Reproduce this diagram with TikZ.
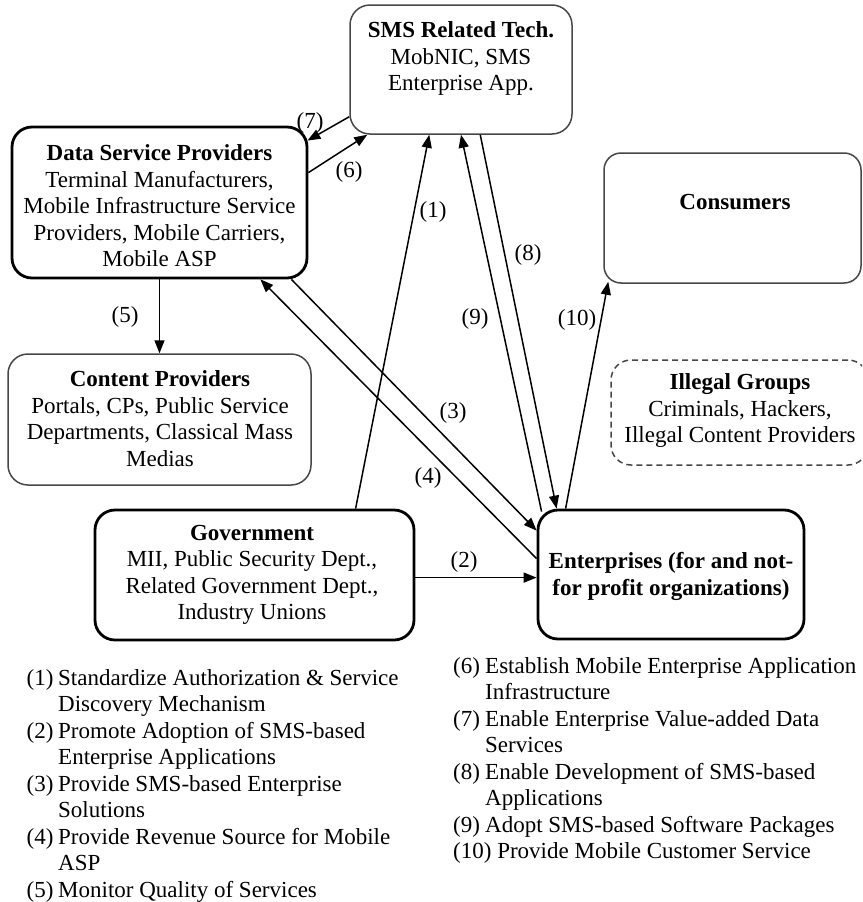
\documentclass[tikz,border=0pt]{standalone}
\usepackage{fontspec}
\setmainfont{Liberation Serif}
\usetikzlibrary{arrows.meta,calc}

\begin{document}
\begin{tikzpicture}[x=1pt,y=-1pt,
  every node/.style={font=\fontsize{23}{26.5}\selectfont, inner sep=0pt},
  boxthick/.style={draw=black, line width=2.8pt, rounded corners=20pt},
  boxthin/.style={draw=black!72, line width=1.5pt, rounded corners=20pt},
  boxdash/.style={draw=black!72, line width=1.5pt, rounded corners=20pt,
                  dash pattern=on 6pt off 4pt},
  txt/.style={align=center},
  flow/.style={line width=1.5pt, -{Triangle[length=13pt,width=10pt]}},
  legend/.style={align=left, anchor=north west}]

\useasboundingbox (0,0) rectangle (862,902);
\clip (0,0) rectangle (862,902);

% ---------- actor boxes ----------
\node[boxthin,  minimum width=222pt, minimum height=129pt] (sms)  at (461,69.5)   {};
\node[boxthick, minimum width=295pt, minimum height=151pt] (dsp)  at (159.5,202.5) {};
\node[boxthin,  minimum width=257pt, minimum height=130pt, rounded corners=17pt] (cons) at (732.5,218) {};
\node[boxthin,  minimum width=303pt, minimum height=131pt] (cp)   at (159.5,419.5) {};
\node[boxdash,  minimum width=257pt, minimum height=105pt] (ill)  at (739.5,412.5) {};
\node[boxthick, minimum width=319pt, minimum height=130pt] (gov)  at (254.5,575)   {};
\node[boxthick, minimum width=266pt, minimum height=129pt] (ent)  at (671,574.5)   {};

% ---------- box texts ----------
\node[txt] (smsT)  at (461,58.5)  {\textbf{SMS Related Tech.}\\MobNIC, SMS\\Enterprise App.};
\node[txt] (dspT)  at (159.5,206) {\textbf{Data Service Providers}\\Terminal Manufacturers,\\Mobile Infrastructure Service\\Providers, Mobile Carriers,\\Mobile ASP};
\node[txt] (consT) at (735,202)   {\textbf{Consumers}};
\node[txt] (cpT)   at (160,418.5) {\textbf{Content Providers}\\Portals, CPs, Public Service\\Departments, Classical Mass\\Medias};
\node[txt] (illT)  at (740,410.5) {\textbf{Illegal Groups}\\Criminals, Hackers,\\Illegal Content Providers};
\node[txt] (govT)  at (252,575)   {\textbf{Government}\\MII, Public Security Dept.,\\Related Government Dept.,\\Industry Unions};
\node[txt] (entT)  at (671,576.5) {\textbf{Enterprises (for and not-}\\\textbf{for profit organizations)}};

% ---------- relations ----------
\draw[flow] ($(gov.north west)+(262,0)$) -- ($(sms.south west)+(80,0)$);   % (1)
\draw[flow] ($(gov.north east)+(0,69)$)  -- ($(ent.north west)+(0,69)$);  % (2)
\draw[flow] ($(dsp.south east)+(-17,0)$) -- ($(ent.north west)+(0,22)$);  % (3)
\draw[flow] ($(ent.north west)+(0,50)$)  -- ($(dsp.south east)+(-48,0)$); % (4)
\draw[flow] (dsp.south) -- (cp.north);                                     % (5)
\draw[flow] ($(dsp.north east)+(0,47)$)  -- ($(sms.south west)+(18,0)$);  % (6)
\draw[flow] ($(sms.south west)+(0,-18)$) -- ($(dsp.north east)+(-1,15)$); % (7)
\draw[flow] ($(sms.south west)+(131,0)$) -- ($(ent.north west)+(20,0)$);  % (8)
\draw[flow] ($(ent.north west)+(5,3)$)   -- (sms.south);                   % (9)
\draw[flow] ($(ent.north west)+(29,0)$)  -- ($(cons.south west)+(5,-2)$); % (10)

% ---------- relation numbers ----------
\node (n1)  at (433,212) {(1)};
\node (n2)  at (464,562) {(2)};
\node (n3)  at (453,413) {(3)};
\node (n4)  at (428,478) {(4)};
\node (n5)  at (125,317) {(5)};
\node (n6)  at (349,172) {(6)};
\node (n7)  at (310,123) {(7)};
\node (n8)  at (528,255) {(8)};
\node (n9)  at (475,319) {(9)};
\node (n10) at (577,320) {(10)};

% ---------- legend ----------
\node[legend] (legL) at (26.5,669) {%
\makebox[31.5pt][l]{(1)}Standardize Authorization \& Service\\
\hspace*{31.5pt}Discovery Mechanism\\
\makebox[31.5pt][l]{(2)}Promote Adoption of SMS-based\\
\hspace*{31.5pt}Enterprise Applications\\
\makebox[31.5pt][l]{(3)}Provide SMS-based Enterprise\\
\hspace*{31.5pt}Solutions\\
\makebox[31.5pt][l]{(4)}Provide Revenue Source for Mobile\\
\hspace*{31.5pt}ASP\\
\makebox[31.5pt][l]{(5)}Monitor Quality of Services};

\node[legend] (legR) at (453,657) {%
\makebox[32pt][l]{(6)}Establish Mobile Enterprise Application\\
\hspace*{32pt}Infrastructure\\
\makebox[32pt][l]{(7)}Enable Enterprise Value-added Data\\
\hspace*{32pt}Services\\
\makebox[32pt][l]{(8)}Enable Development of SMS-based\\
\hspace*{32pt}Applications\\
\makebox[32pt][l]{(9)}Adopt SMS-based Software Packages\\
(10) Provide Mobile Customer Service};

\end{tikzpicture}
\end{document}
